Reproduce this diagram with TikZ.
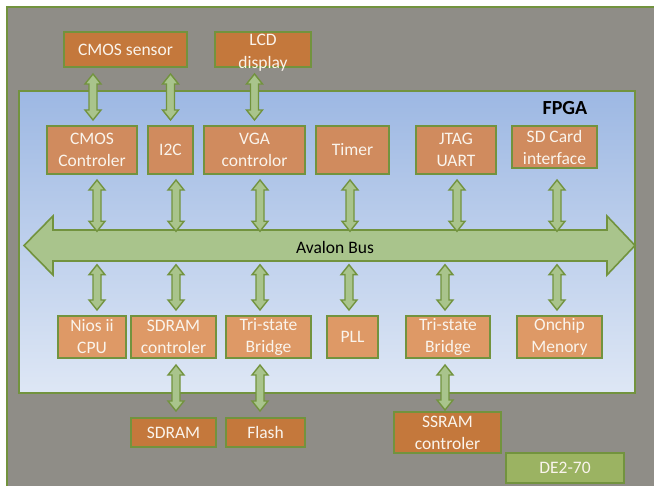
\documentclass[tikz,border=0pt]{standalone}
\usepackage{fontspec}
\setmainfont{Carlito}
\usetikzlibrary{calc}
\definecolor{bggray}{RGB}{143,141,135}
\definecolor{edgegreen}{RGB}{114,147,62}
\definecolor{outfill}{RGB}{196,120,60}
\definecolor{upfill}{RGB}{208,139,94}
\definecolor{lowfill}{RGB}{222,153,102}
\definecolor{linkfill}{RGB}{169,196,140}
\definecolor{boardfill}{RGB}{155,179,98}
\definecolor{fpgatop}{RGB}{157,184,227}
\definecolor{fpgabot}{RGB}{222,231,245}
\definecolor{boxtext}{RGB}{250,244,236}

\begin{document}
\begin{tikzpicture}[x=1pt,y=-1pt,font=\fontsize{17.5}{22}\selectfont,
    box/.style={rectangle,draw=edgegreen,line width=2pt,inner sep=0pt,text=boxtext,align=center},
    outbox/.style={box,fill=outfill},
    upbox/.style={box,fill=upfill},
    lowbox/.style={box,fill=lowfill},
    dbl/.style={draw=edgegreen,fill=linkfill,line width=1.4pt,
      to path={let \p1=(\tikztostart),\p2=(\tikztotarget) in
        (\x1,\y1) -- (\x1+8pt,\y1-10pt) -- (\x1+4pt,\y1-10pt) -- (\x1+4pt,\y2+10pt)
        -- (\x1+8pt,\y2+10pt) -- (\x1,\y2) -- (\x1-8pt,\y2+10pt) -- (\x1-4pt,\y2+10pt)
        -- (\x1-4pt,\y1-10pt) -- (\x1-8pt,\y1-10pt) -- cycle}}]
  \useasboundingbox (0,0) rectangle (654,486);
  % board and fpga
  \draw[edgegreen,line width=2pt,fill=bggray] (7,7) rectangle (664,496);
  \draw[edgegreen,line width=2pt,top color=fpgatop,bottom color=fpgabot] (19,91) rectangle (635,393);
  \node[font=\fontsize{20}{24}\selectfont\bfseries] (fpga) at (565,108) {FPGA};
  % avalon bus
  \draw[edgegreen,line width=1.6pt,fill=linkfill] (24,245.5) -- (53,216) -- (53,230) -- (607,230)
    -- (607,216) -- (635,245.5) -- (607,275) -- (607,261) -- (53,261) -- (53,275) -- cycle;
  \node[minimum width=554pt,minimum height=31pt,inner sep=0pt] (bus) at (335,247) {Avalon Bus};
  % outside the fpga
  \node[outbox,minimum width=123pt,minimum height=35pt] (cmoss) at (125.5,49.5) {CMOS sensor};
  \node[outbox,minimum width=96pt,minimum height=35pt,
    label={[text=boxtext,align=center,yshift=-3pt,font=\fontsize{17.5}{23}\selectfont]center:LCD\\display}] (lcd) at (263,49.5) {};
  \node[outbox,minimum width=85pt,minimum height=29pt] (sdram) at (173.5,432.5) {SDRAM};
  \node[outbox,minimum width=79pt,minimum height=29pt] (flash) at (265.5,432.5) {Flash};
  \node[outbox,minimum width=107pt,minimum height=41pt] (ssram) at (447.5,432.5) {SSRAM\\controler};
  \node[box,fill=boardfill,minimum width=118pt,minimum height=30pt] (de2) at (565,468) {DE2-70};
  % upper peripherals
  \node[upbox,minimum width=90pt,minimum height=48pt] (cmosc) at (92,150) {CMOS\\Controler};
  \node[upbox,minimum width=45pt,minimum height=48pt] (i2c) at (170.5,150) {I2C};
  \node[upbox,minimum width=101pt,minimum height=48pt] (vga) at (254.5,150) {VGA\\controlor};
  \node[upbox,minimum width=73pt,minimum height=48pt] (timer) at (352.5,150) {Timer};
  \node[upbox,minimum width=80pt,minimum height=48pt] (jtag) at (456,150) {JTAG\\UART};
  \node[upbox,minimum width=85pt,minimum height=42pt] (sdcard) at (554.5,147) {SD Card\\interface};
  % lower peripherals
  \node[lowbox,minimum width=68pt,minimum height=42pt] (nios) at (92,337) {Nios ii\\CPU};
  \node[lowbox,minimum width=85pt,minimum height=42pt] (sdramc) at (173.5,337) {SDRAM\\controler};
  \node[lowbox,minimum width=85pt,minimum height=42pt] (tsba) at (268.5,337) {Tri-state\\Bridge};
  \node[lowbox,minimum width=51pt,minimum height=42pt] (pll) at (352.5,337) {PLL};
  \node[lowbox,minimum width=84pt,minimum height=42pt] (tsbb) at (448,337) {Tri-state\\Bridge};
  \node[lowbox,minimum width=85pt,minimum height=42pt] (onchip) at (559.5,337) {Onchip\\Menory};
  % links to the outside
  \draw[dbl] ($(cmosc.north|-cmoss.south)+(1,6)$) to ($(cmosc.north)+(0,-5)$);
  \draw[dbl] ($(i2c.north|-cmoss.south)+(0,6)$) to ($(i2c.north)+(0,-5)$);
  \draw[dbl] ($(vga.north|-lcd.south)+(0,6)$) to ($(vga.north)+(0,-5)$);
  \draw[dbl] ($(sdramc.south)+(2.5,6)$) to ($(sdram.north)+(0,-6)$);
  \draw[dbl] ($(tsba.south)+(-8.5,6)$) to ($(flash.north)+(0,-6)$);
  \draw[dbl] ($(tsbb.south)+(-3,6)$) to ($(ssram.north)+(0,-1)$);
  % links to the bus
  \draw[dbl] ($(cmosc.south)+(5,5)$) to (bus.north);
  \draw[dbl] ($(i2c.south)+(5.5,5)$) to (bus.north);
  \draw[dbl] ($(vga.south)+(5.5,5)$) to (bus.north);
  \draw[dbl] ($(timer.south)+(-2.5,5)$) to (bus.north);
  \draw[dbl] ($(jtag.south)+(1,5)$) to (bus.north);
  \draw[dbl] ($(sdcard.south)+(2.5,11)$) to (bus.north);
  \draw[dbl] ($(nios.north|-bus.south)+(5,2)$) to ($(nios.north)+(0,-5)$);
  \draw[dbl] ($(sdramc.north|-bus.south)+(2.5,2)$) to ($(sdramc.north)+(0,-5)$);
  \draw[dbl] ($(tsba.north|-bus.south)+(-8.5,2)$) to ($(tsba.north)+(0,-5)$);
  \draw[dbl] ($(pll.north|-bus.south)+(-3.5,2)$) to ($(pll.north)+(0,-5)$);
  \draw[dbl] ($(tsbb.north|-bus.south)+(-3,2)$) to ($(tsbb.north)+(0,-5)$);
  \draw[dbl] ($(onchip.north|-bus.south)+(-2.5,2)$) to ($(onchip.north)+(0,-5)$);
\end{tikzpicture}
\end{document}
